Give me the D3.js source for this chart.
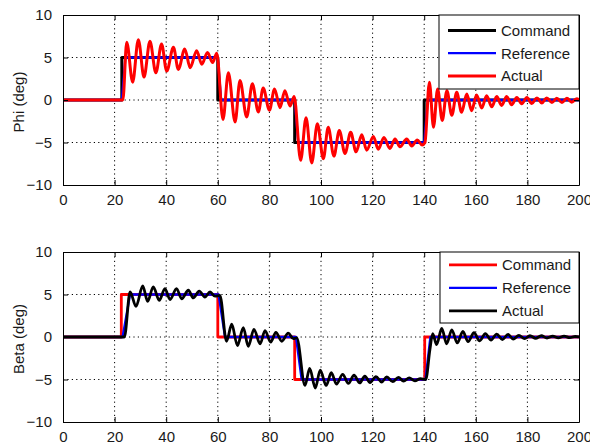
<!DOCTYPE html>
<html>
<head>
<meta charset="utf-8">
<script src="https://cdn.jsdelivr.net/npm/d3@7"></script>
<style>
body { margin: 0; background: #fff; }
text { font-family: Arial, "Liberation Sans", sans-serif; fill: #1a1a1a; }
</style>
</head>
<body>
<div id="chart"></div>
<script>
// axis ticks (both panels share them)
var xTicks = [0, 20, 40, 60, 80, 100, 120, 140, 160, 180, 200];
var yTicks = [-10, -5, 0, 5, 10];
var legendNames = ["Command", "Reference", "Actual"];

// Phi panel, [time, deg]
var phiCommand = [[0,0],[22.8,0],[22.8,5],[60,5],[60,0],[89.8,0],[89.8,-5],[140,-5],[140,0],[200,0]];
var phiReference = [[0,0],[22.8,0],[24.2,5],[60,5],[61.3,0],[89.8,0],[91.2,-5],[140,-5],[141.4,0],[200,0]];
var phiActual = [[0,0],[23.2,0],[24.7,6.8],[27,2.1],[29.2,7.1],[31.4,2.7],[33.7,6.9],[36,3.2],[38.2,6.6],
  [40.2,3.4],[42.8,6.2],[44.7,3.6],[47.2,6.0],[49.3,3.8],[51.8,5.8],[53.8,4.2],[56,5.6],[58,4.4],[59.6,5.5],
  [62,-2.3],[64.1,3.2],[66.7,-2.6],[68.6,2.3],[71.2,-2.0],[73.4,1.9],[75.7,-1.4],[77.6,1.4],[80,-1.2],
  [82,1.3],[84.1,-0.9],[86,1.1],[88,-0.7],[89.6,0.4],
  [92.1,-7.1],[94.2,-2.1],[96.4,-7.4],[98.6,-2.8],[100.9,-6.9],[102.8,-3.2],[105,-6.6],[107.1,-3.6],
  [109.3,-6.3],[111.5,-3.8],[113.6,-6.1],[115.8,-4.1],[117.7,-5.9],[120.3,-4.3],[122.2,-5.8],[124.4,-4.4],
  [126.7,-5.7],[128.7,-4.6],[130.6,-5.5],[133.2,-4.6],[135.2,-5.4],[137.3,-4.7],[139.2,-5.3],[140.3,-5.0],
  [142,2.1],[143.6,-3.2],[145.2,1.3],[147,-2.4],[148.8,1.1],[150.7,-1.8],[152.6,0.9],[154.5,-1.45],
  [156.5,0.7],[158.4,-1.25],[160.3,0.6],[162.3,-0.95],[164.2,0.5],[166.2,-0.8],[168.1,0.4],[170,-0.65],
  [172,0.4],[173.9,-0.55],[175.9,0.3],[177.8,-0.45],[179.8,0.3],[181.7,-0.4],[183.7,0.25],[185.6,-0.35],
  [187.5,0.25],[189.5,-0.3],[191.4,0.2],[193.4,-0.3],[195.3,0.2],[197.2,-0.25],[199.2,0.15],[200,0]];

// Beta panel
var betaCommand = [[0,0],[22.6,0],[22.6,5],[60,5],[60,0],[89.8,0],[89.8,-5],[140.2,-5],[140.2,0],[200,0]];
var betaReference = [[0,0],[23.1,0],[26,5],[60.3,5],[62.8,0],[90.3,0],[92.5,-5],[140.5,-5],[142.4,0],[200,0]];
var betaActual = [[0,0],[23.8,0],[26,5.3],[28.3,3.6],[30.9,6.0],[32.8,4.2],[35,5.9],[37.3,4.3],[39.5,5.7],
  [41.5,4.4],[44,5.7],[46,4.5],[48.6,5.5],[50.5,4.6],[52.8,5.4],[55,4.7],[57,5.3],[58.9,4.8],[60.8,4.9],
  [63.4,-0.5],[65.4,1.5],[67.6,-1.0],[69.9,1.1],[71.8,-1.1],[74,0.9],[76.4,-0.8],[78.3,0.75],[80.5,-0.6],
  [82.5,0.55],[84.8,-0.5],[87.3,0.45],[89.3,-0.2],[90.6,-0.1],
  [93.8,-5.7],[95.6,-3.7],[97.8,-6.0],[99.7,-3.9],[102,-5.7],[104,-4.2],[106,-5.55],[108.4,-4.4],
  [110.6,-5.45],[112.8,-4.5],[115,-5.4],[117,-4.6],[119,-5.35],[121.3,-4.65],[123.5,-5.3],[125.5,-4.7],
  [127.8,-5.25],[130,-4.75],[132,-5.2],[134.2,-4.8],[136.4,-5.15],[138.5,-4.9],[140.6,-5.0],
  [142.2,-1.5],[143.3,0.4],[144.8,-0.9],[146.8,1.0],[148.7,-0.8],[150.7,0.85],[152.8,-0.7],[155,0.65],
  [157,-0.55],[159.3,0.5],[161.5,-0.45],[163.7,0.4],[165.9,-0.35],[168.1,0.35],[170.3,-0.3],[172.5,0.3],
  [174.5,-0.25],[176.7,0.2],[178.9,-0.2],[181,0.15],[183.2,-0.15],[185.4,0.15],[187.6,-0.12],[189.8,0.1],
  [192,-0.1],[194.2,0.1],[196.4,-0.08],[198.6,0.08],[200,0]];

var W = 590, H = 445;
var left = 63, right = 579;

var svg = d3.select("#chart").append("svg")
  .attr("width", W).attr("height", H)
  .style("display", "block");

var x = d3.scaleLinear().domain([0, 200]).range([left, right]);

var panels = [
  { id: "phi", top: 15, bottom: 185, yTitle: "Phi (deg)",
    legend: { x0: 439, y0: 15, w: 140, h: 74, first: 15.5, step: 22.7 },
    series: [
      { data: phiCommand, color: "#000000", width: 3, smooth: false },
      { data: phiReference, color: "#0000ff", width: 2.3, smooth: false },
      { data: phiActual, color: "#ff0000", width: 3, smooth: true }
    ] },
  { id: "beta", top: 252, bottom: 422, yTitle: "Beta (deg)",
    legend: { x0: 440, y0: 252, w: 139, h: 71, first: 12.8, step: 23 },
    series: [
      { data: betaCommand, color: "#ff0000", width: 2.8, smooth: false },
      { data: betaReference, color: "#0000ff", width: 2.3, smooth: false },
      { data: betaActual, color: "#000000", width: 2.8, smooth: true }
    ] }
];

panels.forEach(function(p) { drawPanel(p); });

function drawPanel(p) {
  var y = d3.scaleLinear().domain([-10, 10]).range([p.bottom, p.top]);
  var g = svg.append("g").attr("class", "panel-" + p.id);

  g.append("clipPath").attr("id", "clip-" + p.id)
    .append("rect")
    .attr("x", left).attr("y", p.top)
    .attr("width", right - left).attr("height", p.bottom - p.top);

  // dotted grid
  g.selectAll(".vgrid").data(xTicks.slice(1, -1)).enter()
    .append("line")
    .attr("x1", function(d) { return x(d); }).attr("x2", function(d) { return x(d); })
    .attr("y1", p.top).attr("y2", p.bottom)
    .attr("stroke", "#000").attr("stroke-width", 1)
    .attr("stroke-dasharray", "1.2,3.2");
  g.selectAll(".hgrid").data(yTicks.slice(1, -1)).enter()
    .append("line")
    .attr("y1", function(d) { return y(d); }).attr("y2", function(d) { return y(d); })
    .attr("x1", left).attr("x2", right)
    .attr("stroke", "#000").attr("stroke-width", 1)
    .attr("stroke-dasharray", "1.2,3.2");

  // series
  var lines = g.append("g").attr("clip-path", "url(#clip-" + p.id + ")");
  p.series.forEach(function(s) {
    var line = d3.line()
      .x(function(d) { return x(d[0]); })
      .y(function(d) { return y(d[1]); })
      .curve(s.smooth ? d3.curveMonotoneX : d3.curveLinear);
    lines.append("path")
      .datum(s.data)
      .attr("d", line)
      .attr("fill", "none")
      .attr("stroke", s.color)
      .attr("stroke-width", s.width)
      .attr("stroke-linejoin", "round");
  });

  // axes, matlab style: inner ticks on all sides
  var bottomAxis = d3.axisBottom(x).tickValues(xTicks).tickSizeInner(-5).tickSizeOuter(0).tickPadding(9);
  var topAxis = d3.axisTop(x).tickValues(xTicks).tickSizeInner(-5).tickSizeOuter(0).tickFormat("");
  var leftAxis = d3.axisLeft(y).tickValues(yTicks).tickSizeInner(-5).tickSizeOuter(0).tickPadding(11);
  var rightAxis = d3.axisRight(y).tickValues(yTicks).tickSizeInner(-5).tickSizeOuter(0).tickFormat("");

  var axes = [
    g.append("g").attr("transform", "translate(0," + p.bottom + ")").call(bottomAxis),
    g.append("g").attr("transform", "translate(0," + p.top + ")").call(topAxis),
    g.append("g").attr("transform", "translate(" + left + ",0)").call(leftAxis),
    g.append("g").attr("transform", "translate(" + right + ",0)").call(rightAxis)
  ];
  axes.forEach(function(a) {
    a.select(".domain").attr("stroke", "#000").attr("stroke-width", 1);
    a.selectAll(".tick line").attr("stroke", "#000");
    a.selectAll("text").attr("font-size", "15px").attr("fill", "#1a1a1a");
  });

  g.append("text")
    .attr("transform", "translate(24," + ((p.top + p.bottom) / 2 + 2) + ") rotate(-90)")
    .attr("text-anchor", "middle")
    .attr("font-size", "15px")
    .text(p.yTitle);

  // legend
  var L = p.legend;
  var lg = g.append("g").attr("class", "legend");
  lg.append("rect")
    .attr("x", L.x0).attr("y", L.y0).attr("width", L.w).attr("height", L.h)
    .attr("fill", "#fff").attr("stroke", "#000").attr("stroke-width", 1);
  p.series.forEach(function(s, i) {
    var ly = L.y0 + L.first + i * L.step;
    lg.append("line")
      .attr("x1", L.x0 + 9).attr("x2", L.x0 + 57)
      .attr("y1", ly).attr("y2", ly)
      .attr("stroke", s.color).attr("stroke-width", s.width);
    lg.append("text")
      .attr("x", L.x0 + 62).attr("y", ly)
      .attr("dy", "0.36em")
      .attr("font-size", "15px")
      .text(legendNames[i]);
  });
}
</script>
</body>
</html>
